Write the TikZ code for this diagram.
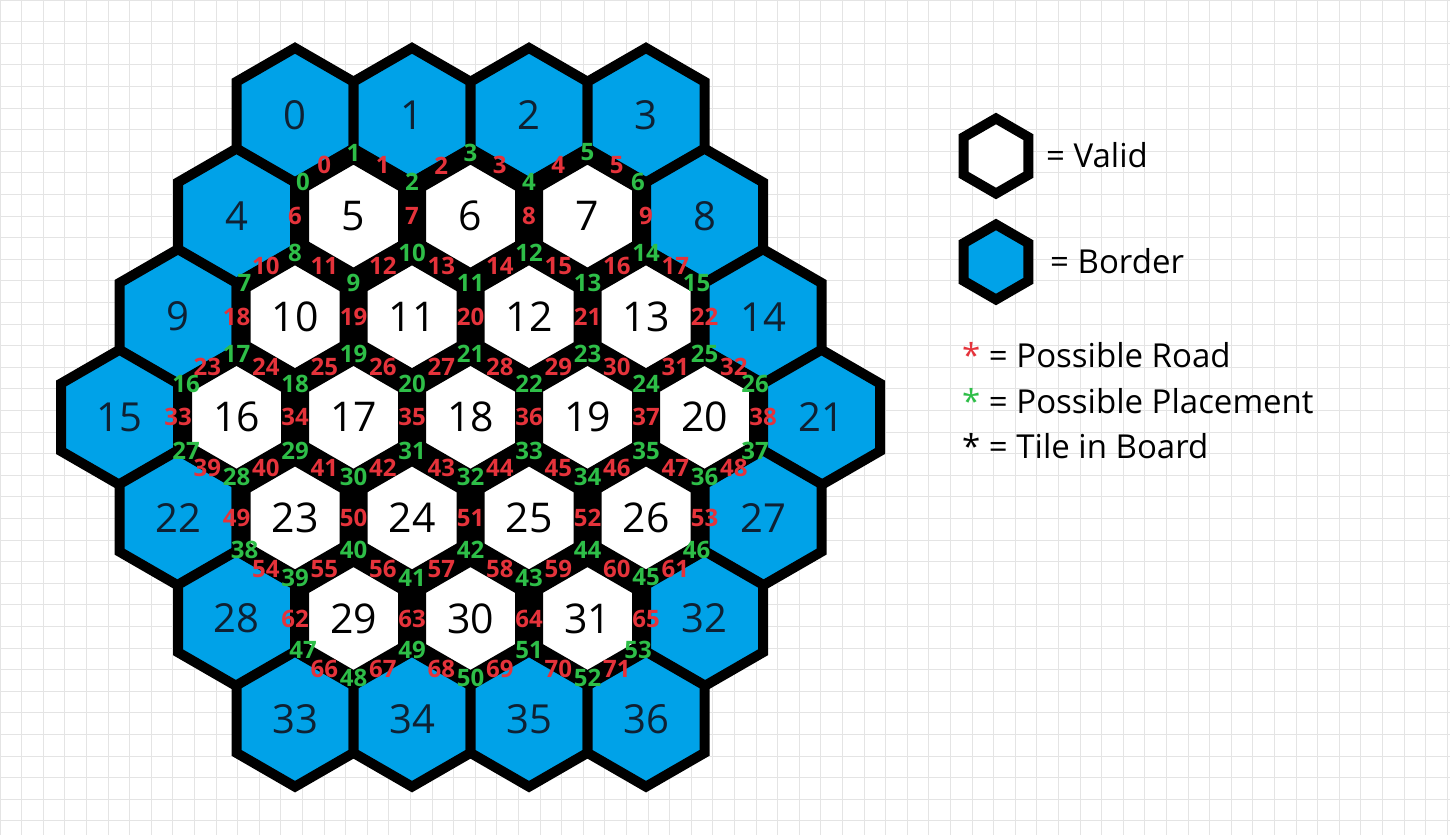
\documentclass[tikz,border=0pt]{standalone}
\usepackage{fontspec}
\setmainfont{Open Sans}
\usetikzlibrary{shapes.geometric}
\definecolor{tileblue}{HTML}{00A2E8}
\definecolor{roadred}{HTML}{E5333B}
\definecolor{placegreen}{HTML}{2EBE48}
\definecolor{gridgray}{HTML}{E4E4E4}
\definecolor{numnavy}{HTML}{0F2133}

\begin{document}
\begin{tikzpicture}[
  x=1pt, y=-1pt,
  bordertile/.style={regular polygon, regular polygon sides=6, shape border rotate=30, inner sep=0pt, minimum size=135.1pt, draw=black, line width=10pt, fill=tileblue, text=numnavy, font=\fontsize{40}{40}\selectfont},
  validtile/.style={regular polygon, regular polygon sides=6, shape border rotate=30, inner sep=0pt, minimum size=124.7pt, draw=black, line width=19pt, fill=white, text=black, font=\fontsize{41}{41}\selectfont},
  spot/.style={inner sep=0pt, text=placegreen, font=\fontsize{24}{24}\selectfont\bfseries},
  road/.style={inner sep=0pt, text=roadred, font=\fontsize{24}{24}\selectfont\bfseries},
  keytile/.style={regular polygon, regular polygon sides=6, shape border rotate=30, inner sep=0pt, minimum size=75pt, draw=black, line width=10pt},
  keytext/.style={anchor=base west, inner sep=0pt, font=\fontsize{33}{33}\selectfont},
]

\useasboundingbox (0,0) rectangle (1450,835);
\fill[white] (0,0) rectangle (1450,835);
\draw[gridgray, line width=1pt, step=21.6pt] (0,0) grid (1450,835);

% board, row by row
\node[bordertile] (t0) at (295,115.5) {0};
\node[bordertile] (t1) at (412,115.5) {1};
\node[bordertile] (t2) at (529,115.5) {2};
\node[bordertile] (t3) at (646,115.5) {3};

\node[bordertile] (t4) at (236.5,216.1) {4};
\node[validtile] (t5) at (353.5,216.1) {5};
\node[validtile] (t6) at (470.5,216.1) {6};
\node[validtile] (t7) at (587.5,216.1) {7};
\node[bordertile] (t8) at (704.5,216.1) {8};

\node[bordertile] (t9) at (178,316.7) {9};
\node[validtile] (t10) at (295,316.7) {10};
\node[validtile] (t11) at (412,316.7) {11};
\node[validtile] (t12) at (529,316.7) {12};
\node[validtile] (t13) at (646,316.7) {13};
\node[bordertile] (t14) at (763,316.7) {14};

\node[bordertile] (t15) at (119.5,417.3) {15};
\node[validtile] (t16) at (236.5,417.3) {16};
\node[validtile] (t17) at (353.5,417.3) {17};
\node[validtile] (t18) at (470.5,417.3) {18};
\node[validtile] (t19) at (587.5,417.3) {19};
\node[validtile] (t20) at (704.5,417.3) {20};
\node[bordertile] (t21) at (821.5,417.3) {21};

\node[bordertile] (t22) at (178,517.9) {22};
\node[validtile] (t23) at (295,517.9) {23};
\node[validtile] (t24) at (412,517.9) {24};
\node[validtile] (t25) at (529,517.9) {25};
\node[validtile] (t26) at (646,517.9) {26};
\node[bordertile] (t27) at (763,517.9) {27};

\node[bordertile] (t28) at (236.5,618.5) {28};
\node[validtile] (t29) at (353.5,618.5) {29};
\node[validtile] (t30) at (470.5,618.5) {30};
\node[validtile] (t31) at (587.5,618.5) {31};
\node[bordertile] (t32) at (704.5,618.5) {32};

\node[bordertile] (t33) at (295,719.1) {33};
\node[bordertile] (t34) at (412,719.1) {34};
\node[bordertile] (t35) at (529,719.1) {35};
\node[bordertile] (t36) at (646,719.1) {36};

% placements on the corners
\foreach \vfirst/\vcnt/\xa/\ya/\yb in {0/7/295/182.3/152.5, 7/9/236.5/282.9/253, 16/11/178/383.5/354, 27/11/178/451.1/477, 38/9/236.5/549.7/577.5, 47/7/295/650.3/678}{
  \pgfmathtruncatemacro\lastidx{\vcnt-1}
  \foreach \i in {0,...,\lastidx}{
    \pgfmathtruncatemacro\lbl{\vfirst+\i}
    \pgfmathsetmacro\vx{\xa+58.5*\i+8*(\i==0)-8*(\i==\lastidx)}
    \pgfmathsetmacro\vy{ifthenelse(mod(\i,2)==0,\ya,\yb)}
    \node[spot] (v\lbl) at (\vx,\vy) {\lbl};
  }
}

% roads on the sides
\foreach \efirst/\ecnt/\xa/\ey/\edx in {0/6/324.25/165.4/58.5, 6/4/295/216.1/117, 10/8/265.75/266/58.5, 18/5/236.5/316.7/117, 23/10/207.25/366.6/58.5, 33/6/178/417.3/117, 39/10/207.25/468/58.5, 49/5/236.5/517.9/117, 54/8/265.75/568.6/58.5, 62/4/295/618.5/117, 66/6/324.25/669.2/58.5}{
  \pgfmathtruncatemacro\lastidx{\ecnt-1}
  \foreach \i in {0,...,\lastidx}{
    \pgfmathtruncatemacro\lbl{\efirst+\i}
    \node[road] (e\lbl) at (\xa+\edx*\i,\ey) {\lbl};
  }
}

% key
\node[keytile, fill=white] (keyvalid) at (996,156) {};
\node[keytile, fill=tileblue] (keyborder) at (996,262) {};
\node[keytext] (validtxt) at (1046,167) {= Valid};
\node[keytext] (bordertxt) at (1050,273) {= Border};
\node[keytext] (roadtxt) at (962,367) {\textcolor{roadred}{*} = Possible Road};
\node[keytext] (placetxt) at (962,413) {\textcolor{placegreen}{*} = Possible Placement};
\node[keytext] (tiletxt) at (962,458) {* = Tile in Board};

\end{tikzpicture}
\end{document}
